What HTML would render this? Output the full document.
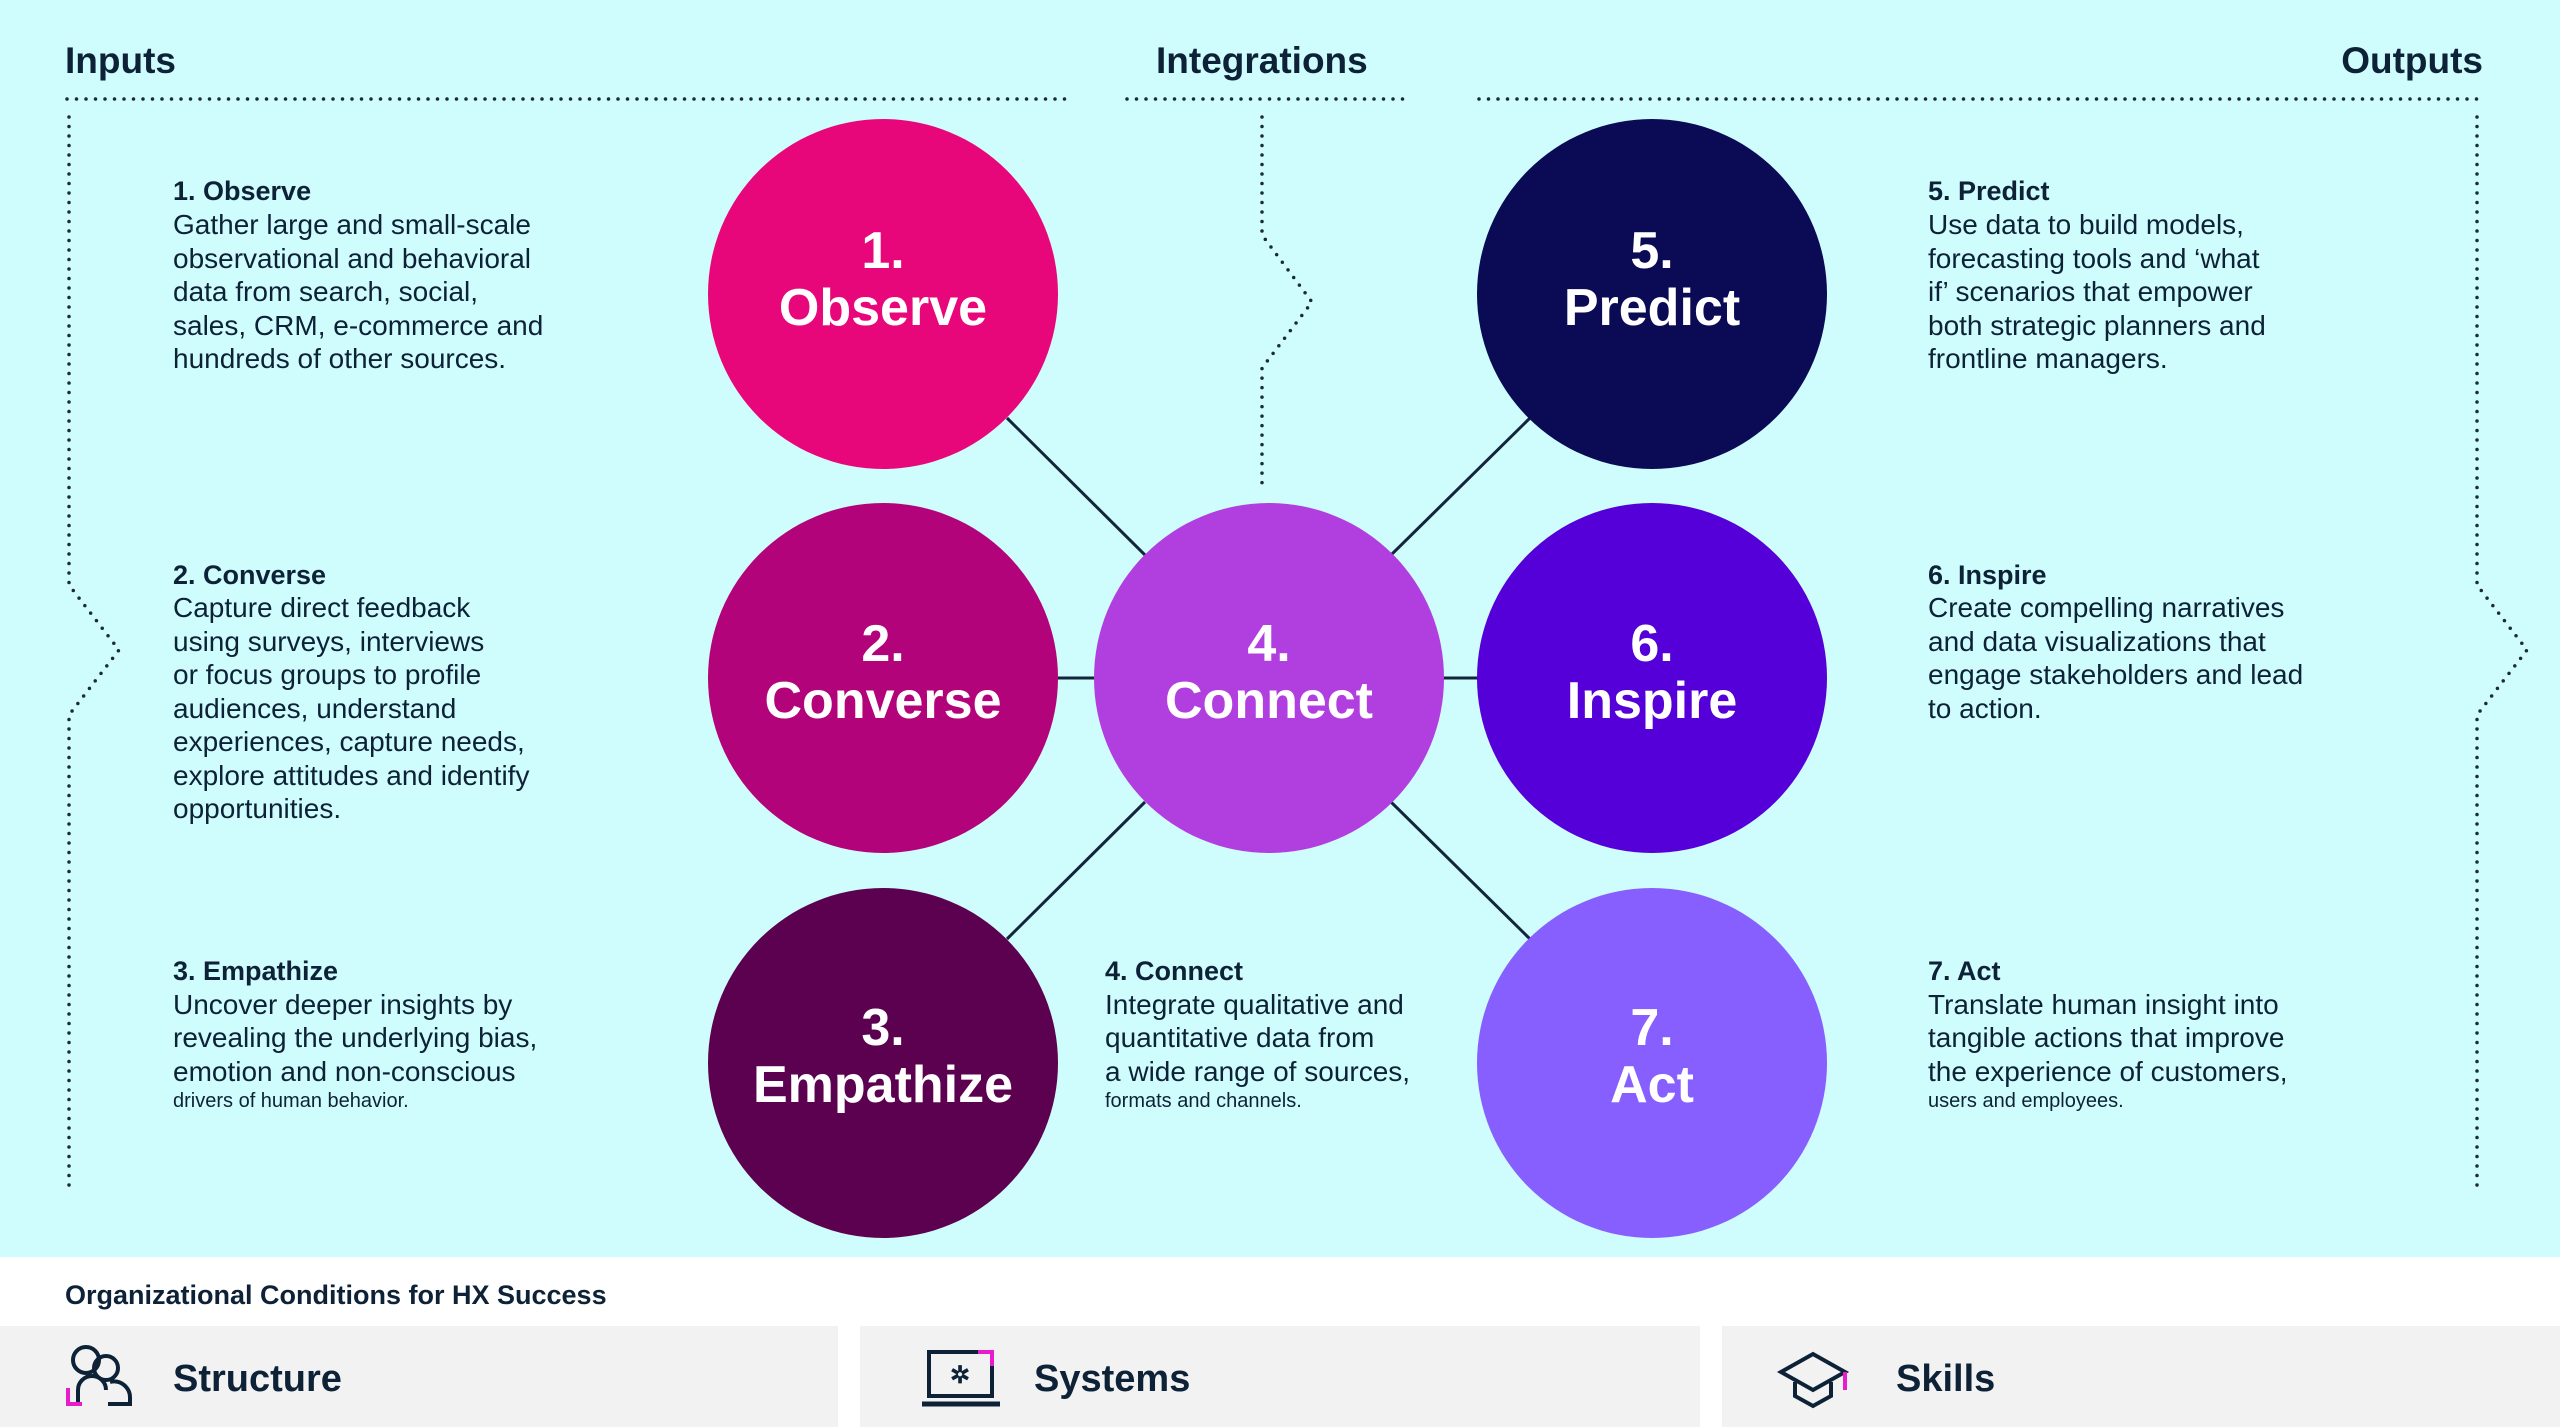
<!DOCTYPE html>
<html><head><meta charset="utf-8"><style>
html,body{margin:0;padding:0;background:#ffffff}
svg{display:block}
text{font-family:"Liberation Sans",sans-serif}
.h{font-size:37px;font-weight:bold;fill:#0d2236}
.t{font-size:27px;font-weight:bold;fill:#0d2236}
.b{font-size:28px;fill:#0d2236}
.s{font-size:20px;fill:#0d2236}
.c{font-size:52px;font-weight:bold;fill:#fff;text-anchor:middle}
.dot{fill:none;stroke:#1a2a3a;stroke-width:3.5;stroke-linecap:round;stroke-dasharray:0 9.5}
.ln{stroke:#13253a;stroke-width:3}
.bt{font-size:38px;font-weight:bold;fill:#0d2236}
</style></head><body>
<svg width="2560" height="1427" viewBox="0 0 2560 1427" xmlns="http://www.w3.org/2000/svg">
<rect x="0" y="0" width="2560" height="1427" fill="#ffffff"/>
<rect x="0" y="0" width="2560" height="1257" fill="#cffcfd"/>
<rect x="0" y="1326" width="838" height="101" fill="#f2f2f2"/>
<rect x="860" y="1326" width="840" height="101" fill="#f2f2f2"/>
<rect x="1722" y="1326" width="838" height="101" fill="#f2f2f2"/>

<text class="h" x="65" y="73">Inputs</text>
<text class="h" x="1156" y="73">Integrations</text>
<text class="h" x="2483" y="73" text-anchor="end">Outputs</text>

<line class="dot" x1="67" y1="99" x2="1065" y2="99"/>
<line class="dot" x1="1127" y1="99" x2="1409" y2="99"/>
<line class="dot" x1="1479" y1="99" x2="2477" y2="99"/>
<polyline class="dot" points="69,117 69,585 119,650 69,715 69,1189"/>
<polyline class="dot" points="1262,117 1262,235 1312,302 1262,368 1262,490"/>
<polyline class="dot" points="2477,117 2477,585 2527,650 2477,715 2477,1189"/>

<line class="ln" x1="1007" y1="418" x2="1145" y2="555"/>
<line class="ln" x1="1530" y1="418" x2="1391" y2="555"/>
<line class="ln" x1="1007" y1="939" x2="1145" y2="802"/>
<line class="ln" x1="1530" y1="939" x2="1391" y2="802"/>
<line class="ln" x1="1055" y1="678" x2="1098" y2="678"/>
<line class="ln" x1="1440" y1="678" x2="1482" y2="678"/>

<circle cx="883" cy="294" r="175" fill="#e8077a"/>
<circle cx="883" cy="678" r="175" fill="#b3037a"/>
<circle cx="883" cy="1063" r="175" fill="#5c0050"/>
<circle cx="1269" cy="678" r="175" fill="#b13fe0"/>
<circle cx="1652" cy="294" r="175" fill="#0a0a55"/>
<circle cx="1652" cy="678" r="175" fill="#5500d8"/>
<circle cx="1652" cy="1063" r="175" fill="#875fff"/>

<text class="c" x="883" y="268">1.</text><text class="c" x="883" y="325">Observe</text>
<text class="c" x="883" y="661">2.</text><text class="c" x="883" y="718">Converse</text>
<text class="c" x="883" y="1045">3.</text><text class="c" x="883" y="1102">Empathize</text>
<text class="c" x="1269" y="661">4.</text><text class="c" x="1269" y="718">Connect</text>
<text class="c" x="1652" y="268">5.</text><text class="c" x="1652" y="325">Predict</text>
<text class="c" x="1652" y="661">6.</text><text class="c" x="1652" y="718">Inspire</text>
<text class="c" x="1652" y="1045">7.</text><text class="c" x="1652" y="1102">Act</text>

<text class="t" x="173" y="200">1. Observe</text>
<text class="b" x="173" y="234">Gather large and small-scale</text>
<text class="b" x="173" y="268">observational and behavioral</text>
<text class="b" x="173" y="301">data from search, social,</text>
<text class="b" x="173" y="335">sales, CRM, e-commerce and</text>
<text class="b" x="173" y="368">hundreds of other sources.</text>

<text class="t" x="173" y="584">2. Converse</text>
<text class="b" x="173" y="617">Capture direct feedback</text>
<text class="b" x="173" y="651">using surveys, interviews</text>
<text class="b" x="173" y="684">or focus groups to profile</text>
<text class="b" x="173" y="718">audiences, understand</text>
<text class="b" x="173" y="751">experiences, capture needs,</text>
<text class="b" x="173" y="785">explore attitudes and identify</text>
<text class="b" x="173" y="818">opportunities.</text>

<text class="t" x="173" y="980">3. Empathize</text>
<text class="b" x="173" y="1014">Uncover deeper insights by</text>
<text class="b" x="173" y="1047">revealing the underlying bias,</text>
<text class="b" x="173" y="1081">emotion and non-conscious</text>
<text class="s" x="173" y="1107">drivers of human behavior.</text>

<text class="t" x="1105" y="980">4. Connect</text>
<text class="b" x="1105" y="1014">Integrate qualitative and</text>
<text class="b" x="1105" y="1047">quantitative data from</text>
<text class="b" x="1105" y="1081">a wide range of sources,</text>
<text class="s" x="1105" y="1107">formats and channels.</text>

<text class="t" x="1928" y="200">5. Predict</text>
<text class="b" x="1928" y="234">Use data to build models,</text>
<text class="b" x="1928" y="268">forecasting tools and ‘what</text>
<text class="b" x="1928" y="301">if’ scenarios that empower</text>
<text class="b" x="1928" y="335">both strategic planners and</text>
<text class="b" x="1928" y="368">frontline managers.</text>

<text class="t" x="1928" y="584">6. Inspire</text>
<text class="b" x="1928" y="617">Create compelling narratives</text>
<text class="b" x="1928" y="651">and data visualizations that</text>
<text class="b" x="1928" y="684">engage stakeholders and lead</text>
<text class="b" x="1928" y="718">to action.</text>

<text class="t" x="1928" y="980">7. Act</text>
<text class="b" x="1928" y="1014">Translate human insight into</text>
<text class="b" x="1928" y="1047">tangible actions that improve</text>
<text class="b" x="1928" y="1081">the experience of customers,</text>
<text class="s" x="1928" y="1107">users and employees.</text>

<text x="65" y="1304" style="font-size:27px;font-weight:bold;fill:#0d2236">Organizational Conditions for HX Success</text>

<g fill="none" stroke="#0d2236" stroke-width="4">
<circle cx="86" cy="1360" r="13"/>
<circle cx="106" cy="1368" r="12"/>
<path d="M78 1402 v-12 a14 14 0 0 1 28 0"/>
<path d="M110 1382 a16 16 0 0 1 20 16 v6 h-22"/>
</g>
<path d="M68 1388 v16 h14" fill="none" stroke="#e81ccf" stroke-width="4"/>
<text class="bt" x="173" y="1391">Structure</text>

<rect x="929" y="1352" width="63" height="44" fill="none" stroke="#0d2236" stroke-width="4"/>
<line x1="922" y1="1404" x2="1000" y2="1404" stroke="#0d2236" stroke-width="5"/>
<path d="M978 1352 h14 v14" fill="none" stroke="#e81ccf" stroke-width="4"/>
<text x="960" y="1383" text-anchor="middle" style="font-size:24px;font-weight:bold;fill:#0d2236">✲</text>
<text class="bt" x="1034" y="1391">Systems</text>

<g fill="none" stroke="#0d2236" stroke-width="4">
<path d="M1781 1372 l32 -18 l32 18 l-32 18 z"/>
<path d="M1795 1382 v14 l18 10 l18 -10 v-14"/>
</g>
<path d="M1845 1372 v18" stroke="#e81ccf" stroke-width="4"/>
<text class="bt" x="1896" y="1391">Skills</text>
</svg>
</body></html>
